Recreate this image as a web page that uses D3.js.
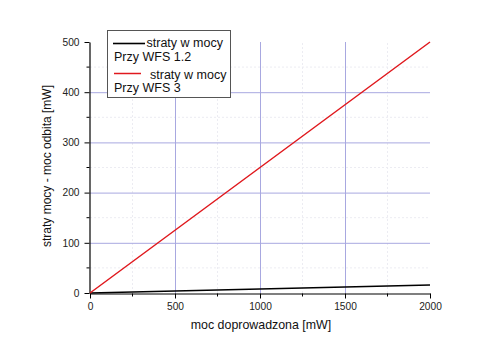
<!DOCTYPE html>
<html><head><meta charset="utf-8">
<script src="https://cdn.jsdelivr.net/npm/d3@7"></script>
<style>body{margin:0;background:#fff}svg{display:block;font-family:"Liberation Sans",Arial,sans-serif}</style>
</head><body>
<svg id="c" width="500" height="352"></svg>
<script>
const xValues = [0, 500, 1000, 1500, 2000];
const seriesBlack = [0, 4, 8, 12, 16];
const seriesRed = [0, 125, 250, 375, 500];
const xTicks = [0, 500, 1000, 1500, 2000];
const yTicks = [0, 100, 200, 300, 400, 500];
const legendLabels = [["straty w mocy", "Przy WFS 1.2"], ["straty w mocy", "Przy WFS 3"]];

const svg = d3.select("#c");
const x = d3.scaleLinear().domain([0, 2000]).range([90, 430]);
const y = d3.scaleLinear().domain([0, 500]).range([293, 42]);

// minor grid (faint)
const g = svg.append("g");
[250, 750, 1250, 1750].forEach(v => g.append("line").attr("x1", x(v)).attr("x2", x(v)).attr("y1", y(0)).attr("y2", y(500)).attr("stroke", "#ececf2").attr("stroke-width", 1).attr("stroke-dasharray", "2,2"));
[50, 150, 250, 350, 450].forEach(v => g.append("line").attr("x1", x(0)).attr("x2", x(2000)).attr("y1", y(v)).attr("y2", y(v)).attr("stroke", "#ececf2").attr("stroke-width", 1).attr("stroke-dasharray", "2,2"));
// major grid
[500, 1000, 1500].forEach(v => g.append("line").attr("x1", x(v) + 0.5).attr("x2", x(v) + 0.5).attr("y1", y(0)).attr("y2", y(500)).attr("stroke", "#a8a8e0").attr("stroke-width", 1));
[100, 200, 300, 400].forEach(v => g.append("line").attr("x1", x(0)).attr("x2", x(2000)).attr("y1", y(v) + 0.5).attr("y2", y(v) + 0.5).attr("stroke", "#a8a8e0").attr("stroke-width", 1));

// axes
const fmt = d3.format("d");
const xAxis = d3.axisBottom(x).tickValues(xTicks).tickFormat(fmt).tickSize(5).tickSizeOuter(0).tickPadding(4);
const xa = svg.append("g").attr("transform", "translate(0,293.5)").call(xAxis);
const yAxis = d3.axisLeft(y).tickValues(yTicks).tickFormat(fmt).tickSize(5).tickSizeOuter(0).tickPadding(5);
const ya = svg.append("g").attr("transform", "translate(89.5,0)").call(yAxis);
[xa, ya].forEach(a => {
  a.selectAll("text").attr("font-size", 10.2).attr("fill", "#222").attr("font-family", "Liberation Sans, Arial, sans-serif");
  a.select(".domain").attr("stroke", "#000").attr("stroke-width", 1.2);
  a.selectAll(".tick line").attr("stroke", "#000");
});
// minor ticks
[250, 750, 1250, 1750].forEach(v => svg.append("line").attr("x1", x(v)).attr("x2", x(v)).attr("y1", 293.5).attr("y2", 296.5).attr("stroke", "#000"));
[50, 150, 250, 350, 450].forEach(v => svg.append("line").attr("x1", 86.5).attr("x2", 89.5).attr("y1", y(v)).attr("y2", y(v)).attr("stroke", "#000"));

// lines
const line = d3.line().x((d, i) => x(xValues[i])).y(d => y(d));
svg.append("path").datum(seriesBlack).attr("d", line).attr("fill", "none").attr("stroke", "#000").attr("stroke-width", 1.6);
svg.append("path").datum(seriesRed).attr("d", line).attr("fill", "none").attr("stroke", "#e0191e").attr("stroke-width", 1.5);

// axis titles
svg.append("text").attr("x", 261).attr("y", 329).attr("text-anchor", "middle").attr("font-size", 12.4).attr("fill", "#111").text("moc doprowadzona [mW]");
svg.append("text").attr("transform", "translate(51,166) rotate(-90)").attr("text-anchor", "middle").attr("font-size", 12).attr("fill", "#111").text("straty mocy - moc odbita [mW]");

// legend
const lg = svg.append("g");
lg.append("rect").attr("x", 107.5).attr("y", 30.5).attr("width", 123).attr("height", 67).attr("fill", "#fff").attr("stroke", "#555").attr("stroke-width", 1);
lg.append("line").attr("x1", 113).attr("x2", 145).attr("y1", 43.5).attr("y2", 43.5).attr("stroke", "#000").attr("stroke-width", 1.6);
lg.append("text").attr("x", 146.5).attr("y", 47).attr("font-size", 12.5).attr("fill", "#111").text(legendLabels[0][0]);
lg.append("text").attr("x", 114).attr("y", 61).attr("font-size", 12.5).attr("fill", "#111").text(legendLabels[0][1]);
lg.append("line").attr("x1", 114).attr("x2", 141).attr("y1", 73.5).attr("y2", 73.5).attr("stroke", "#e0191e").attr("stroke-width", 1.5);
lg.append("text").attr("x", 150).attr("y", 78.5).attr("font-size", 12.5).attr("fill", "#111").text(legendLabels[1][0]);
lg.append("text").attr("x", 114).attr("y", 92).attr("font-size", 12.5).attr("fill", "#111").text(legendLabels[1][1]);
</script>
</body></html>
